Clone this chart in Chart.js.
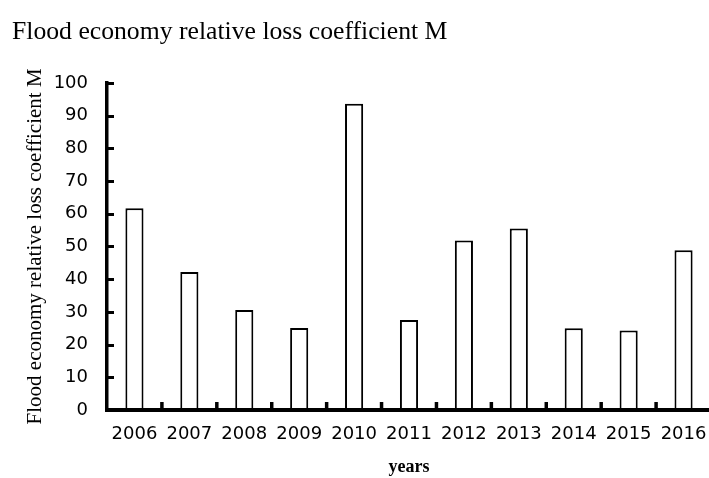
<!DOCTYPE html>
<html>
<head>
<meta charset="utf-8">
<script src="https://cdn.jsdelivr.net/npm/chart.js@4/dist/chart.umd.min.js"></script>
<style>
  html, body { margin: 0; padding: 0; background: #fff; overflow: hidden; }
  canvas { display: block; }
</style>
</head>
<body>
<canvas id="c" width="711" height="478"></canvas>
<script>
const categories = ['2006','2007','2008','2009','2010','2011','2012','2013','2014','2015','2016'];
const lossValues = [61.7, 42.2, 30.6, 25.1, 93.6, 27.5, 51.8, 55.5, 25.0, 24.3, 48.8];
const yTickValues = [0, 10, 20, 30, 40, 50, 60, 70, 80, 90, 100];
const chartTitle = 'Flood economy relative loss coefficient M';
const yAxisTitle = 'Flood economy relative loss coefficient M';
const xAxisTitle = 'years';

const inwardTicks = {
  id: 'inwardTicks',
  afterDraw(chart) {
    const ctx = chart.ctx;
    const x = chart.scales.x, y = chart.scales.y;
    const left = chart.chartArea.left, bottom = chart.chartArea.bottom;
    ctx.save();
    ctx.strokeStyle = '#000';
    ctx.lineCap = 'butt';
    ctx.lineWidth = 3;
    yTickValues.forEach(v => {
      if (v === 0) return;
      const py = Math.round(y.getPixelForValue(v)) + 0.5;
      ctx.beginPath();
      ctx.moveTo(left, py);
      ctx.lineTo(left + 7, py);
      ctx.stroke();
    });
    ctx.lineWidth = 3.5;
    for (let i = 0; i < categories.length - 1; i++) {
      const px = (x.getPixelForValue(i) + x.getPixelForValue(i + 1)) / 2;
      ctx.beginPath();
      ctx.moveTo(px, bottom);
      ctx.lineTo(px, bottom - 8);
      ctx.stroke();
    }
    ctx.restore();
  }
};

new Chart(document.getElementById('c'), {
  type: 'bar',
  data: {
    labels: categories,
    datasets: [{
      data: lossValues,
      backgroundColor: '#ffffff',
      borderColor: '#000000',
      borderWidth: 2,
      categoryPercentage: 1.0,
      barPercentage: 0.33
    }]
  },
  options: {
    responsive: false,
    animation: false,
    devicePixelRatio: 1,
    layout: { padding: { left: 12, right: 0, top: 0, bottom: 0 } },
    plugins: {
      legend: { display: false },
      tooltip: { enabled: false },
      title: {
        display: true,
        text: chartTitle,
        align: 'start',
        color: '#000',
        font: { family: 'Liberation Serif', size: 25.7, weight: 'normal' },
        padding: { top: 17, bottom: 35 }
      }
    },
    scales: {
      x: {
        grid: { display: false, drawTicks: false },
        border: { display: true, color: '#000', width: 4, z: 1 },
        ticks: {
          color: '#000',
          padding: 14,
          maxRotation: 0,
          autoSkip: false,
          font: { family: 'DejaVu Sans', size: 18 }
        },
        title: {
          display: true,
          text: xAxisTitle,
          color: '#000',
          font: { family: 'Liberation Serif', size: 18, weight: 'bold' },
          padding: { top: 0, bottom: 0 }
        },
        afterFit(scale) {
          scale.height = 68;
          scale.paddingLeft = 0;
          scale.paddingRight = 0;
        }
      },
      y: {
        min: 0,
        max: 100,
        afterBuildTicks(scale) {
          scale.ticks = yTickValues.map(v => ({ value: v }));
        },
        grid: { display: false, drawTicks: false },
        border: { display: true, color: '#000', width: 3.5, z: 1 },
        ticks: {
          color: '#000',
          padding: 19,
          font: { family: 'DejaVu Sans', size: 18 }
        },
        title: {
          display: true,
          text: yAxisTitle,
          color: '#000',
          font: { family: 'Liberation Serif', size: 21, weight: 'normal' },
          padding: { top: 11, bottom: 0 }
        },
        afterFit(scale) {
          scale.width = 95;
          scale.paddingTop = 0;
          scale.paddingBottom = 0;
        }
      }
    }
  },
  plugins: [inwardTicks]
});
</script>
</body>
</html>
